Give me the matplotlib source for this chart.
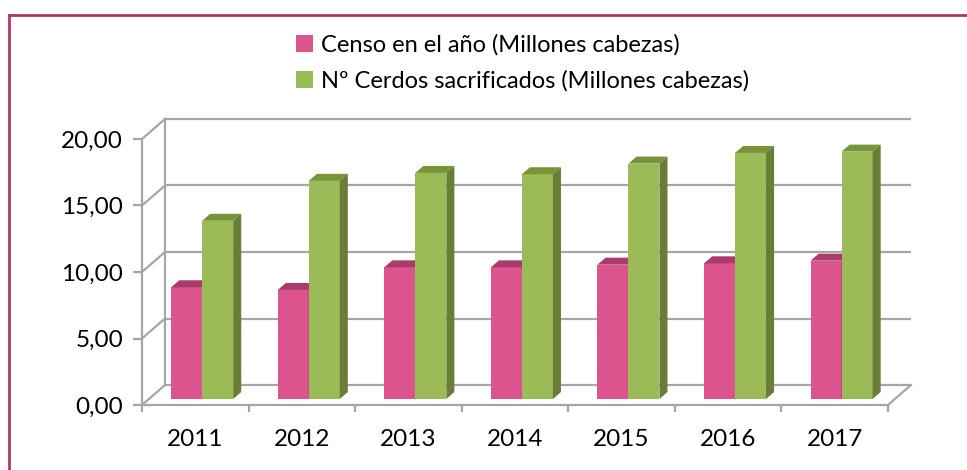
import matplotlib
matplotlib.use("Agg")
import matplotlib.pyplot as plt
from matplotlib.patches import Polygon, Patch
from matplotlib.lines import Line2D
import numpy as np

years = ["2011", "2012", "2013", "2014", "2015", "2016", "2017"]
censo = [8.4, 8.2, 9.9, 9.9, 10.1, 10.2, 10.4]
sacrificados = [13.4, 16.4, 17.0, 16.9, 17.7, 18.5, 18.6]
series_names = ["Censo en el año (Millones cabezas)",
                "Nº Cerdos sacrificados (Millones cabezas)"]
yticks = [0, 5, 10, 15, 20]

plt.rcParams['font.family'] = ['Lato', 'DejaVu Sans']

W, H = 967, 470
fig = plt.figure(figsize=(W / 100, H / 100), dpi=100)

# front plane of the 3D box in pixels
x0p, x1p, y0p, y1p = 142, 888, 405, 139
ax = fig.add_axes([x0p / W, 1 - y0p / H, (x1p - x0p) / W, (y0p - y1p) / H])
n = len(years)
ax.set_xlim(-0.5, n - 0.5)
ax.set_ylim(0, 20)

pxx = (x1p - x0p) / n          # px per category unit
pxy = (y0p - y1p) / 20.0       # px per value unit
DX = 23 / pxx                  # depth offset (x) in data units
DY = 20 / pxy                  # depth offset (y) in data units
f0, f1 = 0.30, 0.65            # depth positions of bar front/back
w = 31 / pxx                   # bar width

grid_c = '#A6A6A6'
glw = 1.6
# back wall gridlines + side diagonals
for v in yticks:
    ax.plot([-0.5 + DX, n - 0.5 + DX], [v + DY, v + DY], color=grid_c, lw=glw,
            clip_on=False, zorder=1, solid_capstyle='butt')
    ax.plot([-0.5, -0.5 + DX], [v, v + DY], color=grid_c, lw=glw,
            clip_on=False, zorder=1)
ax.plot([-0.5 + DX, -0.5 + DX], [DY, 20 + DY], color=grid_c, lw=glw,
        clip_on=False, zorder=1)
ax.plot([n - 0.5, n - 0.5 + DX], [0, DY], color=grid_c, lw=glw,
        clip_on=False, zorder=1)

colors = [
    dict(front='#DC548D', top='#A93C6B', side='#9E3463'),
    dict(front='#9BBB59', top='#779538', side='#687D36'),
]
x = np.arange(n)
dd = f1 - f0
for i in range(n):
    for s, vals in enumerate([censo, sacrificados]):
        c = colors[s]
        xl = x[i] - w + s * w + f0 * DX
        xr = xl + w
        b = f0 * DY
        t = b + vals[i]
        ax.bar(xl, vals[i], width=w, bottom=b, align='edge', color=c['front'],
               zorder=3 + i * 2 + s, clip_on=False, linewidth=0)
        ax.add_patch(Polygon([(xl, t), (xr, t), (xr + dd * DX, t + dd * DY),
                              (xl + dd * DX, t + dd * DY)], closed=True,
                             facecolor=c['top'], edgecolor='none',
                             zorder=3 + i * 2 + s, clip_on=False))
        ax.add_patch(Polygon([(xr, b), (xr, t), (xr + dd * DX, t + dd * DY),
                              (xr + dd * DX, b + dd * DY)], closed=True,
                             facecolor=c['side'], edgecolor='none',
                             zorder=3 + i * 2 + s, clip_on=False))

for sp in ['top', 'right']:
    ax.spines[sp].set_visible(False)
for sp in ['left', 'bottom']:
    ax.spines[sp].set_color(grid_c)
    ax.spines[sp].set_linewidth(glw)
    ax.spines[sp].set_zorder(2)
ax.patch.set_visible(False)

ax.set_yticks(yticks)
ax.set_yticklabels([f"{v:.2f}".replace('.', ',') for v in yticks], fontsize=17.5)
ax.tick_params(axis='y', length=6.5, width=glw, color=grid_c, pad=7)

ax.set_xticks(np.arange(-0.5, n, 1.0))
ax.set_xticklabels([])
ax.tick_params(axis='x', which='major', length=5, width=glw, color=grid_c, direction='out')
ax.set_xticks(x, minor=True)
ax.set_xticklabels(years, minor=True, fontsize=17.5)
ax.tick_params(axis='x', which='minor', length=0, pad=17)

handles = [Patch(facecolor=colors[0]['front'], edgecolor='none'),
           Patch(facecolor=colors[1]['front'], edgecolor='none')]
fig.legend(handles, series_names, loc='upper left',
           bbox_to_anchor=(296 / W, 1 - 34 / H), frameon=False, fontsize=17,
           handlelength=0.7, handleheight=0.7, handletextpad=0.35,
           labelspacing=0.62, borderaxespad=0, borderpad=0)

# outer frame
bc = '#B0346C'
fig.add_artist(Line2D([8.5 / W, 1.0], [1 - 14.5 / H, 1 - 14.5 / H],
                      transform=fig.transFigure, color=bc, lw=2.0))
fig.add_artist(Line2D([8.5 / W, 8.5 / W], [0, 1 - 14.5 / H],
                      transform=fig.transFigure, color=bc, lw=2.0))

fig.savefig("out.png", dpi=100, facecolor='white')
